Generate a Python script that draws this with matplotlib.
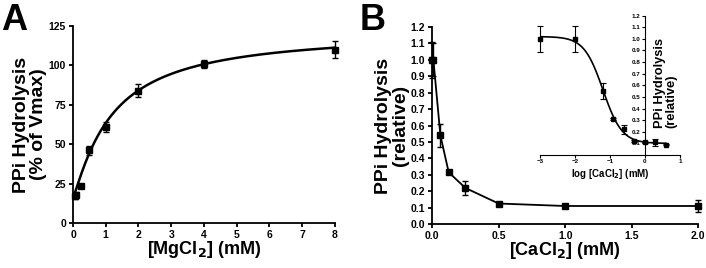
import numpy as np
import matplotlib.pyplot as plt

plt.rcParams['font.family'] = ['Liberation Sans', 'DejaVu Sans']
plt.rcParams['font.weight'] = 'bold'
plt.rcParams['axes.labelweight'] = 'bold'

# ── Panel A data: MgCl2 titration ──
mg_conc = [0.05, 0.1, 0.25, 0.5, 1.0, 2.0, 4.0, 8.0]
mg_act = [17, 18, 23.5, 46, 61, 84, 101, 110]
mg_err = [2, 1.5, 1.5, 3, 3, 4, 2.5, 5.5]
# Hill fit parameters (bottom, span, K, n)
mg_fit = (16, 106, 1.2, 1.15)

# ── Panel B data: CaCl2 titration ──
ca_conc = [0.001, 0.01, 0.0625, 0.125, 0.25, 0.5, 1.0, 2.0]
ca_act = [1.0, 1.0, 0.54, 0.315, 0.22, 0.125, 0.11, 0.11]
ca_err = [0.11, 0.1, 0.07, 0.012, 0.04, 0.006, 0.006, 0.035]

# inset (log scale)
log_ca = [-3, -2, -1.2, -0.9, -0.6, -0.3, 0.0, 0.3, 0.6]
log_act = [1.0, 1.0, 0.55, 0.31, 0.22, 0.12, 0.11, 0.11, 0.09]
log_err = [0.11, 0.11, 0.07, 0.01, 0.04, 0.01, 0.005, 0.03, 0.005]
# sigmoid fit parameters (top, bottom, logIC50, hill)
log_fit = (1.02, 0.10, -1.2, 1.6)

fig = plt.figure(figsize=(7.06, 2.68), dpi=100)

def style(ax, lw=1.3):
    for s in ['top', 'right']:
        ax.spines[s].set_visible(False)
    for s in ['left', 'bottom']:
        ax.spines[s].set_linewidth(lw)
    ax.tick_params(direction='out', width=lw, length=3, labelsize=7.5, pad=2)

def no_clip(eb):
    for art in eb.get_children():
        art.set_clip_on(False)

# ───── A ─────
axA = fig.add_axes([0.1034, 0.168, 0.371, 0.735])
xs = np.linspace(0, 8, 400)
b, span, K, n = mg_fit
axA.plot(xs, b + span * xs**n / (K**n + xs**n), color='black', lw=1.8)
no_clip(axA.errorbar(mg_conc, mg_act, yerr=mg_err, fmt='s', color='black', ms=4,
                     capsize=2.5, elinewidth=1, capthick=1))
axA.set_xlim(0, 8)
axA.set_ylim(0, 125)
axA.set_xticks(range(0, 9))
axA.set_yticks([0, 25, 50, 75, 100, 125])
style(axA)
axA.set_xlabel('[MgCl$_\\mathbf{2}$] (mM)', fontsize=13)
axA.xaxis.set_label_coords(0.5, -0.08)
axA.set_ylabel('PPi Hydrolysis\n(% of Vmax)', fontsize=14, linespacing=1.0)
axA.yaxis.set_label_coords(-0.1, 0.5)
fig.text(0.002, 0.99, 'A', fontsize=26, fontweight='bold', va='top')

# ───── B ─────
axB = fig.add_axes([0.612, 0.164, 0.377, 0.735])
no_clip(axB.errorbar(ca_conc, ca_act, yerr=ca_err, fmt='s-', color='black', ms=4,
                     lw=1.3, capsize=2.5, elinewidth=1, capthick=1))
axB.set_xlim(0, 2.0)
axB.set_ylim(0, 1.2)
axB.set_xticks([0, 0.5, 1.0, 1.5, 2.0])
axB.set_yticks(np.arange(0, 1.21, 0.1))
axB.xaxis.set_major_formatter(plt.FormatStrFormatter('%.1f'))
axB.yaxis.set_major_formatter(plt.FormatStrFormatter('%.1f'))
style(axB)
axB.set_xlabel('[CaCl$_\\mathbf{2}$] (mM)', fontsize=13)
axB.xaxis.set_label_coords(0.5, -0.08)
axB.set_ylabel('PPi Hydrolysis\n(relative)', fontsize=14, linespacing=1.0)
axB.yaxis.set_label_coords(-0.085, 0.5)
fig.text(0.51, 0.99, 'B', fontsize=26, fontweight='bold', va='top')

# ───── inset ─────
axI = fig.add_axes([0.765, 0.4216, 0.198, 0.52])
top, bot, ic50, h = log_fit
lx = np.linspace(-3, 0.6, 300)
axI.plot(lx, bot + (top - bot) / (1 + 10**((lx - ic50) * h)), color='black', lw=1.2)
no_clip(axI.errorbar(log_ca, log_act, yerr=log_err, fmt='s', color='black', ms=2.5,
                     capsize=2, elinewidth=0.8, capthick=0.8))
axI.set_xlim(-3, 1)
axI.set_ylim(0, 1.2)
axI.set_xticks([-3, -2, -1, 0, 1])
axI.set_yticks(np.arange(0.1, 1.21, 0.1))
axI.yaxis.set_major_formatter(plt.FormatStrFormatter('%.1f'))
axI.spines['left'].set_position(('data', 0))
for s in ['top', 'right']:
    axI.spines[s].set_visible(False)
axI.patch.set_alpha(0)
axI.tick_params(direction='out', width=0.8, length=2, labelsize=4.5, pad=1)
axI.set_xlabel('log [CaCl$_\\mathbf{2}$] (mM)', fontsize=7, labelpad=2)
axI.text(0.25, 0.62, 'PPi Hydrolysis\n(relative)', rotation=90, fontsize=9.3,
         fontweight='bold', ha='left', va='center', linespacing=1.0,
         transform=axI.transData)

fig.savefig('out.png', dpi=100)
